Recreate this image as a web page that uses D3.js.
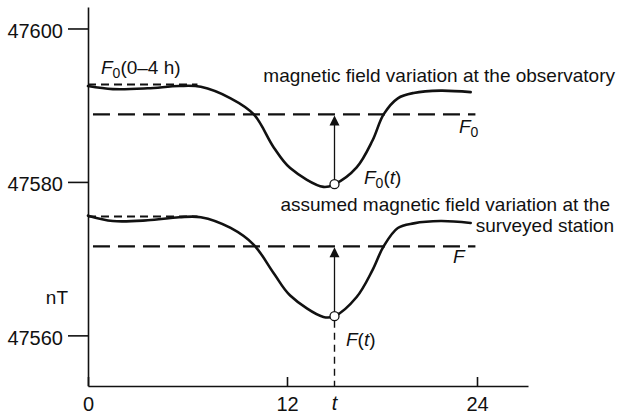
<!DOCTYPE html>
<html>
<head>
<meta charset="utf-8">
<script src="https://cdn.jsdelivr.net/npm/d3@7/dist/d3.min.js"></script>
<style>
  body { margin: 0; background: #fff; }
  svg { display: block; font-family: "Liberation Sans", Arial, Helvetica, sans-serif; }
</style>
</head>
<body>
<svg id="chart" width="621" height="415"></svg>
<script>
// Time of day (h) at which the field curves are sampled
const hours       = [0, 1.5, 3.6, 5.5, 6.8, 8.6, 10.0, 11.2, 12.2, 14.3, 15.0, 16.4, 17.4, 18.1, 19.0, 20.0, 21.7, 23.6];
// Total field at the observatory (nT)
const observatory = [47592.5, 47592.1, 47592.2, 47592.5, 47592.4, 47590.9, 47588.8, 47584.5, 47581.8, 47579.35, 47579.7, 47581.9, 47585.4, 47588.8, 47590.9, 47591.6, 47591.9, 47591.7];
// Assumed total field at the surveyed station (nT)
const station     = [47575.6, 47574.9, 47575.0, 47575.4, 47575.4, 47574.0, 47571.8, 47568.1, 47565.2, 47562.4, 47562.5, 47565.0, 47568.5, 47571.6, 47574.0, 47574.6, 47574.9, 47574.65];

const yTicks = [47560, 47580, 47600];
const xTicks = [0, 12, 24];

// Reference levels
const baseF0 = 47588.8;           // F0
const baseF  = 47571.6;           // F
const baseSpan = [0.3, 23.9];     // extent of the reference dashed lines (h)
const quietF0 = 47592.7;          // F0(0–4 h)
const quietF  = 47575.5;
const quietSpan = [0, 6.6];

// Reading time t and the values read there
const tHour = 15.0;
const F0t = 47579.7;
const Ft  = 47562.5;

const svg = d3.select("#chart");

const x = d3.scaleLinear().domain([0, 12, 24, 27.2]).range([88, 287, 477, 528]);
const y = d3.scaleLinear().domain([47553.4, 47602.8]).range([386, 7]);

// ---- axes
const yAxis = svg.append("g")
  .attr("transform", "translate(88,0)")
  .call(d3.axisLeft(y).tickValues(yTicks).tickSize(20).tickPadding(5).tickSizeOuter(0)
        .tickFormat(d3.format("d")));
const xAxis = svg.append("g")
  .attr("transform", "translate(0,386)")
  .call(d3.axisBottom(x).tickValues(xTicks).tickSize(-9).tickPadding(11).tickSizeOuter(0)
        .tickFormat(d3.format("d")));

[yAxis, xAxis].forEach(g => {
  g.select(".domain").attr("stroke", "#111").attr("stroke-width", 1.6);
  g.selectAll(".tick line").attr("stroke", "#111").attr("stroke-width", 1.6);
  g.selectAll(".tick text").attr("fill", "#111")
    .style("font-size", "20px")
    .style("font-family", "'Liberation Sans', Arial, sans-serif");
});
yAxis.selectAll(".tick text").attr("dy", "0.44em");

// italic t under the time axis
svg.append("text")
  .attr("x", x(tHour)).attr("y", 410)
  .attr("text-anchor", "middle")
  .style("font-size", "20px").style("font-style", "italic").attr("fill", "#111")
  .text("t");

// axis unit
svg.append("text")
  .attr("x", 68).attr("y", 304)
  .attr("text-anchor", "end")
  .style("font-size", "19px").attr("fill", "#111")
  .text("nT");

// ---- reference dashed lines
const hline = (level, span, width, dash) =>
  svg.append("line")
    .attr("x1", x(span[0])).attr("x2", x(span[1]))
    .attr("y1", y(level)).attr("y2", y(level))
    .attr("stroke", "#111").attr("stroke-width", width)
    .attr("stroke-dasharray", dash);

hline(baseF0, baseSpan, 2.2, "17,8");
hline(baseF,  baseSpan, 2.2, "17,8");
hline(quietF0, quietSpan, 2, "8,5");
hline(quietF,  quietSpan, 2, "8,5");

// ---- field curves
const line = d3.line()
  .x((d, i) => x(hours[i]))
  .y(d => y(d))
  .curve(d3.curveCatmullRom.alpha(0.5));

[observatory, station].forEach(series => {
  svg.append("path")
    .attr("d", line(series))
    .attr("fill", "none")
    .attr("stroke", "#111")
    .attr("stroke-width", 2.6)
    .attr("stroke-linecap", "round");
});

// ---- arrows from the reading up to the reference level
const r = 4.5;
const arrow = (from, to) => {
  const xp = x(tHour);
  const yTip = y(to);
  const headLen = 11, headHalf = 5;
  svg.append("line")
    .attr("x1", xp).attr("x2", xp)
    .attr("y1", y(from) - r).attr("y2", yTip + headLen - 1)
    .attr("stroke", "#111").attr("stroke-width", 1.3);
  svg.append("path")
    .attr("d", `M${xp},${yTip + 1}L${xp - headHalf},${yTip + headLen}L${xp + headHalf},${yTip + headLen}Z`)
    .attr("fill", "#111");
};
arrow(F0t, baseF0);
arrow(Ft, baseF);

// dashed drop line from F(t) to the time axis
svg.append("line")
  .attr("x1", x(tHour)).attr("x2", x(tHour))
  .attr("y1", y(Ft) + r).attr("y2", 386)
  .attr("stroke", "#111").attr("stroke-width", 1.4)
  .attr("stroke-dasharray", "7,5");

// reading markers
[F0t, Ft].forEach(v => {
  svg.append("circle")
    .attr("cx", x(tHour)).attr("cy", y(v)).attr("r", r)
    .attr("fill", "#fff").attr("stroke", "#111").attr("stroke-width", 1.3);
});

// ---- labels
const label = (xp, yp, parts, anchor) => {
  const t = svg.append("text")
    .attr("x", xp).attr("y", yp)
    .attr("text-anchor", anchor || "start")
    .style("font-size", "19px").attr("fill", "#111");
  parts.forEach(p => {
    const s = t.append("tspan").text(p.text);
    if (p.italic) s.style("font-style", "italic");
    if (p.sub) s.style("font-size", "14px").attr("dy", 4);
    if (p.up) s.attr("dy", -4);
  });
  return t;
};

label(101, 74, [{ text: "F", italic: true }, { text: "0", sub: true }, { text: "(0–4 h)", up: true }]);
label(615, 82, [{ text: "magnetic field variation at the observatory" }], "end");
label(459, 133, [{ text: "F", italic: true }, { text: "0", sub: true }]);
label(364, 184, [{ text: "F", italic: true }, { text: "0", sub: true }, { text: "(", up: true }, { text: "t", italic: true }, { text: ")" }]);
label(610, 211, [{ text: "assumed magnetic field variation at the" }], "end");
label(614, 232, [{ text: "surveyed station" }], "end");
label(453, 263, [{ text: "F", italic: true }]);
label(346, 346, [{ text: "F", italic: true }, { text: "(" }, { text: "t", italic: true }, { text: ")" }]);
</script>
</body>
</html>
